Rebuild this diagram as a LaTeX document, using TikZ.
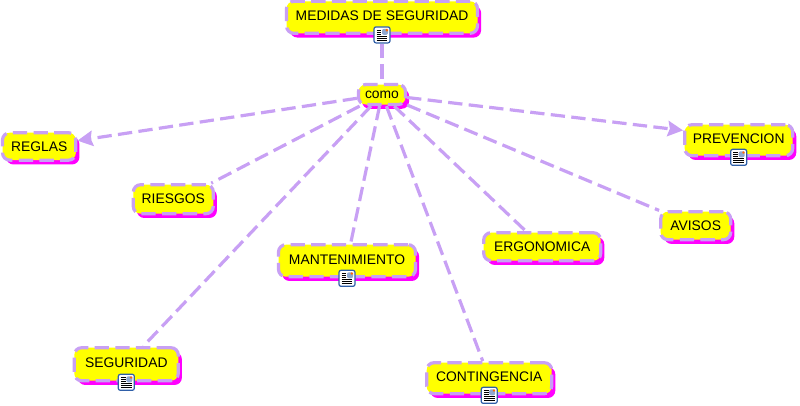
\documentclass[tikz,border=0pt]{standalone}
\usepackage{xcolor}
\usepackage{fontspec}
\setmainfont{Liberation Sans}
\usetikzlibrary{arrows.meta,positioning,shadows}
\definecolor{lav}{HTML}{C8A0F4}
\definecolor{conceptfill}{HTML}{FFFF00}
\definecolor{conceptshadow}{HTML}{FF00FF}
\definecolor{iconblue}{HTML}{2F5FA8}
\definecolor{icontile}{HTML}{8FA8D0}

\begin{document}
\begin{tikzpicture}[
  x=.75pt, y=.75pt,
  concept/.style={rectangle, draw=lav, fill=conceptfill, line width=2.4pt,
    dash pattern=on 10.75pt off 4.75pt, rounded corners=5.5pt, inner sep=0pt,
    font=\fontsize{10.4pt}{12pt}\selectfont, text=black,
    drop shadow={shadow xshift=2.7pt, shadow yshift=-3.2pt, fill=conceptshadow, opacity=1}},
  withdoc/.style={concept, text depth=2.2pt},
  link/.style={draw=lav, line width=2.4pt, dash pattern=on 10.75pt off 4.75pt},
  linkarrow/.style={link, -{Stealth[length=11.5pt, width=11.5pt, inset=1.5pt]}},
  docicon/.style={rectangle, draw=iconblue, fill=white, line width=.9pt, rounded corners=1.5pt,
    minimum width=12pt, minimum height=12pt, inner sep=0pt,
    path picture={
      \foreach \i in {1,2,3}
        \draw[black, line width=.5pt] ([xshift=2pt, yshift=-1pt-1.5*\i*1pt]path picture bounding box.north west) -- ++(3.5pt,0);
      \foreach \i in {4,5,6}
        \draw[black, line width=.5pt] ([xshift=2pt, yshift=-1pt-1.5*\i*1pt]path picture bounding box.north west) -- ++(8pt,0);
      \fill[icontile] (path picture bounding box.north east) ++(-1.5pt,-1.5pt) rectangle ++(-4.5pt,-4.5pt);
      \fill[orange!80!red] (path picture bounding box.north east) ++(-1.5pt,-1.5pt) rectangle ++(-1.8pt,-1.8pt);
    }},
]
  \useasboundingbox (0,0) rectangle (800,-405);

  \node[concept, minimum width=35.25pt, minimum height=15pt] (como) at (382,-94.5) {como};
  \node[withdoc, above=36pt of como, minimum width=143.25pt, minimum height=24pt] (medidas) {MEDIDAS DE SEGURIDAD};
  \node[concept, below left=18.75pt and 209.6pt of como, minimum width=55pt, minimum height=20.6pt] (reglas) {REGLAS};
  \node[concept, below left=57.75pt and 106.5pt of como, minimum width=60pt, minimum height=21.75pt] (riesgos) {RIESGOS};
  \node[withdoc, below=102.75pt of como, xshift=-26.25pt, minimum width=102.75pt, minimum height=24pt] (mantenimiento) {MANTENIMIENTO};
  \node[withdoc, below left=180pt and 132.75pt of como, minimum width=78pt, minimum height=24.75pt] (seguridad) {SEGURIDAD};
  \node[withdoc, below right=191.25pt and 13.5pt of como, minimum width=93.75pt, minimum height=23.25pt] (contingencia) {CONTINGENCIA};
  \node[concept, below right=93.75pt and 56.25pt of como, minimum width=87.75pt, minimum height=21pt] (ergonomica) {ERGONOMICA};
  \node[concept, below right=78pt and 189pt of como, minimum width=52.5pt, minimum height=21pt] (avisos) {AVISOS};
  \node[withdoc, below right=12.75pt and 207pt of como, minimum width=81pt, minimum height=23.25pt] (prevencion) {PREVENCION};

  % Document icons
  \node[docicon] (medidasicon) at (medidas.south) {};
  \node[docicon] (mantenimientoicon) at (mantenimiento.south) {};
  \node[docicon] (seguridadicon) at (seguridad.south) {};
  \node[docicon] (contingenciaicon) at (contingencia.south) {};
  \node[docicon] (prevencionicon) at (prevencion.south) {};

  % Links
  \draw[link] (medidasicon) -- (como);
  \draw[linkarrow] (como) -- (reglas);
  \draw[linkarrow] (como) -- (prevencion.170);
  \draw[link] (como) -- (riesgos.23);
  \foreach \dst in {mantenimiento,seguridad,contingencia,ergonomica,avisos}
    \draw[link] (como) -- (\dst);
\end{tikzpicture}
\end{document}
